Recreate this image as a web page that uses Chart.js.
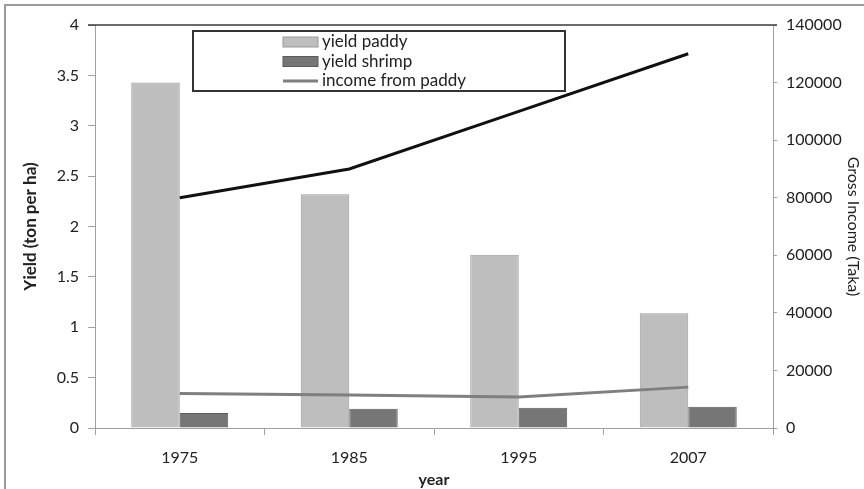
<!DOCTYPE html>
<html>
<head>
<meta charset="utf-8">
<script src="https://cdn.jsdelivr.net/npm/chart.js@4"></script>
<style>
  body { margin: 0; background: #fff; }
  #wrap { position: relative; width: 864px; height: 489px; }
</style>
</head>
<body>
<div id="wrap"><canvas id="yieldChart"></canvas></div>
<script>
// data
var years = ["1975", "1985", "1995", "2007"];
var yieldPaddy = [3.43, 2.32, 1.72, 1.14];
var yieldShrimp = [0.15, 0.19, 0.2, 0.21];
var incomePaddy = [12000, 11500, 10800, 14200];
var incomeShrimp = [80000, 90000, 110000, 130000];

var FONT = "Lato, 'Liberation Sans', sans-serif";

// frame, top border of plot and boxed legend
var decor = {
    id: 'decor',
    afterDraw: function(chart) {
        var ctx = chart.ctx;
        var a = chart.chartArea;
        ctx.save();
        // outer frame (top + left)
        ctx.strokeStyle = '#9a9a9a';
        ctx.lineWidth = 2;
        ctx.beginPath();
        ctx.moveTo(5, 489);
        ctx.lineTo(5, 5);
        ctx.lineTo(864, 5);
        ctx.stroke();
        // plot top line
        ctx.strokeStyle = '#3a3a3a';
        ctx.lineWidth = 1.5;
        ctx.beginPath();
        ctx.moveTo(a.left - 7, a.top);
        ctx.lineTo(a.right + 4, a.top);
        ctx.stroke();

        // legend box
        ctx.fillStyle = '#fff';
        ctx.fillRect(193, 31, 372, 60);
        ctx.strokeStyle = '#333';
        ctx.lineWidth = 2;
        ctx.strokeRect(193, 31, 372, 60);
        var items = chart.data.datasets.filter(function(d) { return d.showInLegend; });
        items.sort(function(p, q) { return p.legendPos - q.legendPos; });
        ctx.font = '17px ' + FONT;
        ctx.textBaseline = 'middle';
        items.forEach(function(d, i) {
            var y = 42 + i * 19.5;
            if (d.type === 'bar') {
                ctx.fillStyle = d.backgroundColor;
                ctx.fillRect(283, y - 5, 35, 10);
                ctx.strokeStyle = d.borderColor;
                ctx.lineWidth = 1;
                ctx.strokeRect(283, y - 5, 35, 10);
            } else {
                ctx.strokeStyle = d.borderColor;
                ctx.lineWidth = 3;
                ctx.beginPath();
                ctx.moveTo(283, y);
                ctx.lineTo(318, y);
                ctx.stroke();
            }
            ctx.fillStyle = '#222';
            ctx.fillText(d.label, 322, y);
        });
        ctx.restore();
    }
};

function plain(v) { return String(v); }

new Chart("yieldChart", {
    data: {
        labels: years,
        datasets: [{
            type: 'line',
            label: 'income from shrimp',
            data: incomeShrimp,
            yAxisID: 'y2',
            borderColor: '#111',
            borderWidth: 3,
            pointRadius: 0,
            tension: 0,
            order: 0,
            showInLegend: false
        }, {
            type: 'line',
            label: 'income from paddy',
            data: incomePaddy,
            yAxisID: 'y2',
            borderColor: '#7f7f7f',
            borderWidth: 3,
            pointRadius: 0,
            tension: 0,
            order: 0,
            showInLegend: true,
            legendPos: 2
        }, {
            type: 'bar',
            label: 'yield paddy',
            data: yieldPaddy,
            yAxisID: 'y',
            backgroundColor: '#bebebe',
            borderColor: '#999',
            borderWidth: 1,
            barPercentage: 1,
            categoryPercentage: 0.572,
            order: 1,
            showInLegend: true,
            legendPos: 0
        }, {
            type: 'bar',
            label: 'yield shrimp',
            data: yieldShrimp,
            yAxisID: 'y',
            backgroundColor: '#767676',
            borderColor: '#5c5c5c',
            borderWidth: 1,
            barPercentage: 1,
            categoryPercentage: 0.572,
            order: 1,
            showInLegend: true,
            legendPos: 1
        }]
    },
    options: {
        responsive: true,
        maintainAspectRatio: false,
        animation: false,
        layout: { padding: { top: 25, left: 0, right: 0, bottom: 0 } },
        plugins: {
            legend: { display: false },
            tooltip: { enabled: false }
        },
        scales: {
            x: {
                offset: true,
                grid: { offset: true, drawOnChartArea: false, tickLength: 7, color: '#a0a0a0' },
                border: { color: '#a0a0a0' },
                ticks: { color: '#222', font: { family: FONT, size: 16 }, padding: 13 },
                title: { display: true, text: 'year', color: '#222', font: { family: FONT, size: 16, weight: 'bold' }, padding: { top: 0, bottom: 0 } },
                afterFit: function(s) { s.height = 61; }
            },
            y: {
                position: 'left',
                min: 0,
                max: 4,
                ticks: { stepSize: 0.5, callback: plain, color: '#222', font: { family: FONT, size: 16 }, padding: 9 },
                grid: { drawOnChartArea: false, tickLength: 7, color: '#a0a0a0' },
                border: { color: '#a0a0a0' },
                title: { display: true, text: 'Yield (ton per ha)', color: '#222', font: { family: FONT, size: 17, weight: 'bold' }, padding: { top: 20, bottom: 0 } },
                afterFit: function(s) { s.width = 95; }
            },
            y2: {
                position: 'right',
                min: 0,
                max: 140000,
                ticks: { stepSize: 20000, callback: plain, color: '#222', font: { family: FONT, size: 16 }, padding: 9 },
                grid: { drawOnChartArea: false, tickLength: 4, color: '#a0a0a0' },
                border: { color: '#a0a0a0' },
                title: { display: true, text: 'Gross Income (Taka)', color: '#222', font: { family: FONT, size: 16 }, padding: { top: 1, bottom: 0 } },
                afterFit: function(s) { s.width = 91; }
            }
        }
    },
    plugins: [decor]
});
</script>
</body>
</html>
